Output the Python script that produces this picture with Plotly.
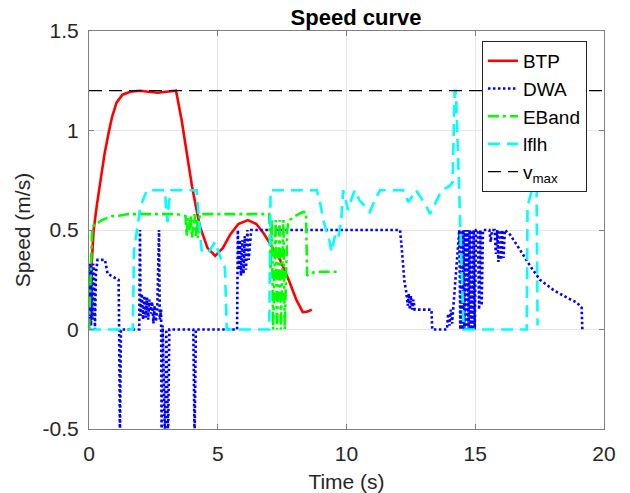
import plotly.graph_objects as go

# ---------------- data ----------------
btp_t = [0, 0.1, 0.18, 0.3, 0.45, 0.6, 0.78, 0.9, 1.07, 1.3, 1.6, 1.98, 2.3, 2.68, 3.0, 3.38,
         3.6, 3.8, 4.0, 4.3, 4.6, 4.9, 5.2, 5.5, 5.8, 6.17, 6.5, 6.8, 7.1, 7.42, 7.8, 8.05, 8.3, 8.5, 8.65]
btp_v = [0.1, 0.3, 0.5, 0.62, 0.75, 0.88, 1.0, 1.07, 1.14, 1.18, 1.195, 1.2, 1.195, 1.19, 1.195, 1.2,
         1.05, 0.89, 0.72, 0.52, 0.41, 0.37, 0.41, 0.48, 0.53, 0.55, 0.53, 0.48, 0.42, 0.35, 0.235, 0.15, 0.087, 0.09, 0.1]

dwa_t = [0, 0.02, 0.04, 0.06, 0.08, 0.1, 0.13, 0.16, 0.2, 0.23, 0.27, 0.33, 0.62, 0.72, 1.0, 1.15, 1.17, 1.2, 1.24,
         1.95, 1.98, 2.0, 2.05, 2.1, 2.15, 2.2, 2.25, 2.3, 2.35, 2.4, 2.45, 2.5, 2.55, 2.6, 2.65, 2.72, 2.75,
         2.8, 2.82, 2.86, 2.95, 3.0, 3.07, 3.12, 4.05, 4.1, 4.15, 5.75, 5.78, 5.82, 5.86, 5.9, 5.95, 6.0, 6.05,
         6.1, 6.15, 6.2, 6.3, 12.08, 12.15, 12.25, 12.32, 12.38, 12.42, 12.46, 12.5, 12.55, 12.6, 12.65,
         13.3, 13.33, 13.9, 13.95, 14.0, 14.05, 14.1, 14.15, 14.38, 14.42, 14.46, 14.5, 14.54, 14.58, 14.62,
         14.66, 14.7, 14.74, 14.78, 14.82, 14.86, 14.9, 14.94, 14.98, 15.03, 15.1, 15.15, 15.2, 15.25, 15.3,
         15.55, 15.6, 15.65, 15.75, 15.8, 15.85, 15.9, 15.95, 16.0, 16.05, 16.1, 16.15, 16.35, 16.74, 17.13,
         17.51, 18.02, 18.56, 18.95, 19.13, 19.16]
dwa_v = [0, 0.33, 0.0, 0.32, 0.02, 0.3, 0.05, 0.33, 0.3, 0.0, 0.28, 0.35, 0.35, 0.28, 0.26, 0.25, 0.0, -0.56, 0.0,
         0.0, 0.5, 0.07, 0.18, 0.05, 0.17, 0.06, 0.16, 0.05, 0.15, 0.08, 0.14, 0.03, 0.12, 0.04, 0.1, 0.5, 0.05,
         0.1, -0.56, 0.02, -0.56, 0.0, -0.56, 0.0, 0.0, -0.56, 0.0, 0.0, 0.5, 0.3, 0.45, 0.27, 0.45, 0.28, 0.47,
         0.3, 0.5, 0.35, 0.5, 0.5, 0.4, 0.24, 0.19, 0.12, 0.18, 0.1, 0.17, 0.1, 0.15, 0.1,
         0.1, 0.0, 0.0, 0.08, 0.02, 0.1, 0.03, 0.12, 0.5, 0.0, 0.5, 0.0, 0.5, 0.0, 0.5,
         0.0, 0.5, 0.0, 0.5, 0.0, 0.5, 0.0, 0.5, 0.0, 0.5, 0.5, 0.1, 0.5, 0.12, 0.5,
         0.5, 0.44, 0.5, 0.5, 0.38, 0.5, 0.34, 0.5, 0.35, 0.5, 0.36, 0.5, 0.477, 0.40, 0.32,
         0.25, 0.20, 0.16, 0.135, 0.11, 0.0]

eband_t = [0, 0.12, 0.2, 0.3, 0.5, 0.7, 0.9, 1.1, 1.5, 2.0, 2.5, 3.0, 3.4, 3.75, 3.79, 3.85, 3.9, 3.95,
           4.0, 4.04, 4.1, 4.15, 4.2, 4.23, 4.3, 4.5, 5.0, 5.5, 6.0, 6.5, 7.0, 7.05, 7.1, 7.15, 7.25, 7.3,
           7.4, 7.45, 7.55, 7.6, 7.7, 7.74, 8.0, 8.3, 8.43, 8.47, 8.6, 9.0, 9.75]
eband_v = [0, 0.5, 0.53, 0.53, 0.55, 0.56, 0.57, 0.57, 0.58, 0.58, 0.58, 0.58, 0.58, 0.57, 0.47, 0.56, 0.5, 0.57,
           0.46, 0.52, 0.58, 0.47, 0.56, 0.46, 0.58, 0.58, 0.58, 0.58, 0.58, 0.58, 0.58, 0.3, 0.55, 0.0, 0.55, 0.0,
           0.55, 0.0, 0.55, 0.0, 0.5, 0.545, 0.57, 0.59, 0.59, 0.27, 0.285, 0.29, 0.29]

lflh_t = [0, 1.7, 1.75, 1.9, 2.0, 2.25, 2.6, 2.95, 3.0, 3.05, 3.1, 3.2, 3.5, 4.18, 4.37, 4.6, 4.9, 5.08,
          5.28, 5.35, 7.0, 7.05, 7.5, 8.0, 8.5, 8.85, 8.97, 9.1, 9.23, 9.35, 9.42, 9.55, 9.67, 9.8, 9.87,
          10.06, 10.2, 10.33, 10.5, 10.7, 10.9, 11.1, 11.3, 12.2, 12.4, 12.55, 12.7, 12.9, 13.1, 13.24,
          13.5, 13.7, 14.0, 14.12, 14.2, 14.25, 14.55, 17.0, 17.03, 17.1, 17.2, 17.38, 17.42]
lflh_v = [0, 0, 0.4, 0.54, 0.62, 0.7, 0.7, 0.7, 0.6, 0.54, 0.64, 0.7, 0.7, 0.7, 0.4, 0.38, 0.44, 0.37,
          0.31, 0.0, 0.0, 0.7, 0.7, 0.7, 0.7, 0.7, 0.64, 0.55, 0.49, 0.44, 0.39, 0.47, 0.45, 0.56, 0.7,
          0.6, 0.66, 0.7, 0.65, 0.62, 0.59, 0.65, 0.7, 0.7, 0.64, 0.67, 0.7, 0.66, 0.62, 0.58,
          0.65, 0.7, 0.72, 0.74, 1.2, 1.2, 0.0, 0.0, 0.62, 0.66, 0.7, 0.72, 0.02]

vmax_t = [0, 20]
vmax_v = [1.2, 1.2]

x_ticks = [0, 5, 10, 15, 20]
y_ticks = [-0.5, 0, 0.5, 1, 1.5]
y_tick_text = ["-0.5", "0", "0.5", "1", "1.5"]

# ---------------- figure ----------------
FONT = "Liberation Sans, Arial, Helvetica, sans-serif"
fig = go.Figure()
fig.add_trace(go.Scatter(x=btp_t, y=btp_v, mode="lines", name="BTP",
                         line=dict(color="#ff0000", width=2.6)))
fig.add_trace(go.Scatter(x=dwa_t, y=dwa_v, mode="lines", name="DWA",
                         line=dict(color="#0000ff", width=2.6, dash="2.5px,2.5px")))
fig.add_trace(go.Scatter(x=eband_t, y=eband_v, mode="lines", name="EBand",
                         line=dict(color="#00ff00", width=2.6, dash="11px,4px,3px,4px")))
fig.add_trace(go.Scatter(x=lflh_t, y=lflh_v, mode="lines", name="lflh",
                         line=dict(color="#00ffff", width=2.6, dash="12px,7px")))
fig.add_trace(go.Scatter(x=vmax_t, y=vmax_v, mode="lines", name="v<sub>max</sub>",
                         line=dict(color="#000000", width=1.2, dash="13px,7px")))

axis_common = dict(showline=True, linecolor="#808080", linewidth=1, mirror="ticks",
                   ticks="inside", ticklen=5, tickcolor="#808080", automargin=False,
                   showgrid=True, gridcolor="#e6e6e6", gridwidth=1, zeroline=False,
                   tickfont=dict(family=FONT, size=21, color="#262626"))

fig.update_xaxes(range=[0, 20], tickvals=x_ticks, ticklabelstandoff=6,
                 title=dict(text="Time (s)", font=dict(family=FONT, size=21, color="#262626"), standoff=11),
                 **axis_common)
fig.update_yaxes(range=[-0.5, 1.5], tickvals=y_ticks, ticktext=y_tick_text, ticklabelstandoff=5,
                 title=dict(text="Speed (m/s)", font=dict(family=FONT, size=21, color="#262626"), standoff=6),
                 **axis_common)

fig.update_layout(
    width=630, height=493,
    margin=dict(l=89, r=26, t=31, b=64, autoexpand=False),
    paper_bgcolor="white", plot_bgcolor="white",
    title=dict(text="<b>Speed curve</b>", x=356 / 630, xanchor="center", y=1 - 17 / 493, yanchor="middle",
               font=dict(family=FONT, size=22, color="#000000")),
    legend=dict(x=0.763, y=0.975, xanchor="left", yanchor="top", bgcolor="white",
                bordercolor="#262626", borderwidth=1,
                font=dict(family=FONT, size=19, color="#000000"), tracegroupgap=0),
    showlegend=True,
)

fig.write_html("out.html")
